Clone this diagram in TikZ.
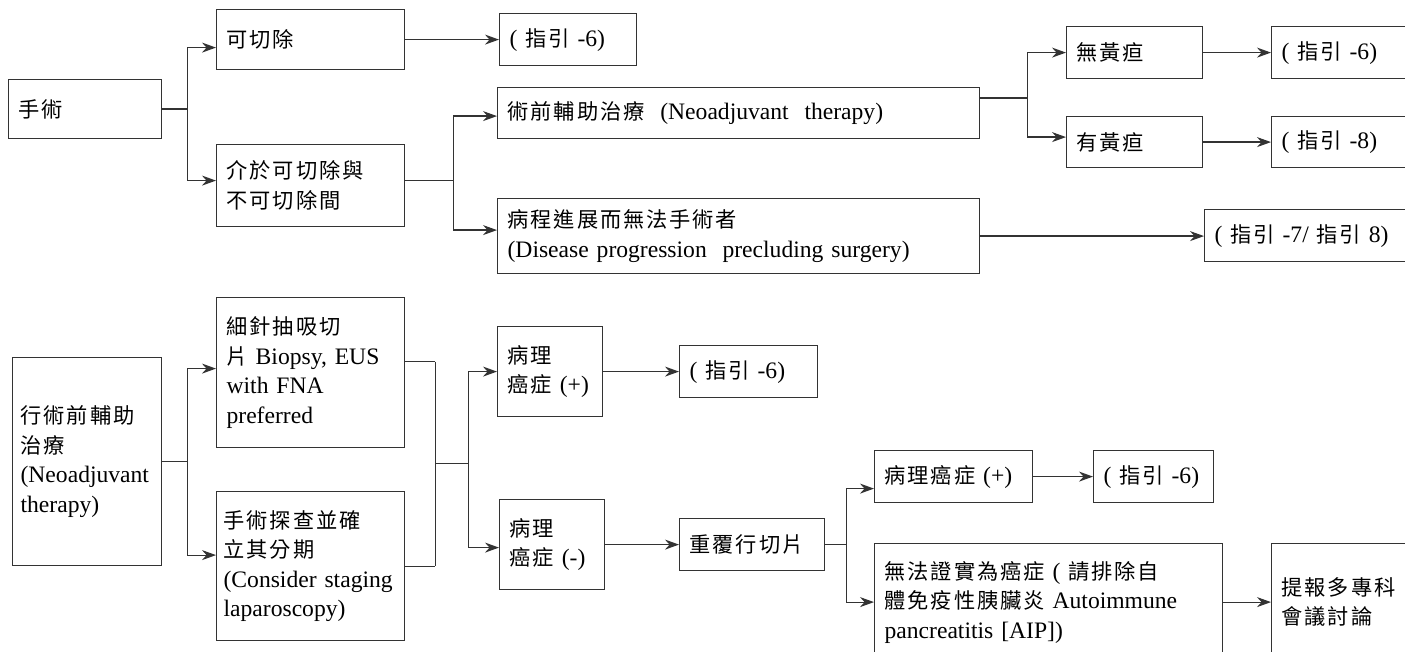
\documentclass[tikz,border=0pt]{standalone}
\usepackage{fontspec}
\setmainfont{Liberation Serif}
\newfontfamily\cjk{Noto Sans CJK TC}[Scale=0.9,LetterSpace=9]
\newcommand{\zh}[1]{{\cjk #1}}
\usetikzlibrary{arrows.meta,positioning}
\definecolor{linecol}{gray}{0.2}
\hyphenpenalty=10000
\exhyphenpenalty=10000

\begin{document}
\begin{tikzpicture}[x=1pt,y=-1pt,>={Stealth[length=14pt,width=10pt]},
                    box/.style 2 args={draw=linecol,line width=1.2pt,anchor=north west,
                      align=left,inner xsep=10pt,inner ysep=2pt,text width=#1,
                      minimum height=#2,font=\fontsize{23.6}{29.5}\selectfont},
                    link/.style={draw=linecol,line width=1.2pt}]
  \useasboundingbox (0,0) rectangle (1405,652);

  \node[box={133pt}{59pt}] (ss) at (8,79) {\zh{手術}};
  \node[box={168pt}{60pt}] (kqc) at (216,9) {\zh{可切除}};
  \node[box={168pt}{82pt}] (jy) at (216,144) {\zh{介於可切除與}\\\zh{不可切除間}};
  \node[box={117pt}{52pt}] (g6a) at (499,13) {( \zh{指引} -6)};
  \node[box={462pt}{51pt}] (neo) at (497,87) {\zh{術前輔助治療}\ \ (Neoadjuvant\ \ therapy)};
  \node[box={462pt}{75pt}] (prog) at (497,198) {\zh{病程進展而無法手術者}\\(Disease progression\ \ precluding surgery)};
  \node[box={116pt}{52pt}] (nj) at (1066,26) {\zh{無黃疸}};
  \node[box={116pt}{51pt}] (yj) at (1066,116) {\zh{有黃疸}};
  \node[box={129pt}{52pt}] (g6b) at (1271,26) {( \zh{指引} -6)};
  \node[box={129pt}{51pt}] (g8) at (1271,116) {( \zh{指引} -8)};
  \node[box={196pt}{52pt}] (g78) at (1204,209) {( \zh{指引} -7/ \zh{指引} 8)};

  \node[box={133pt}{208pt},inner xsep=8pt] (pre) at (12,357) {\zh{行術前輔助}\\\zh{治療}\\(Neoadjuvant\\therapy)};
  \node[box={168pt}{150pt}] (fna) at (216,297) {\zh{細針抽吸切}\\\zh{片} Biopsy, EUS\\with FNA\\preferred};
  \node[box={174pt}{149pt},inner xsep=7pt] (lap) at (216,491) {\zh{手術探查並確}\\\zh{立其分期}\\(Consider staging\\laparoscopy)};
  \node[box={85pt}{90pt}] (pos) at (497,326) {\zh{病理}\\\zh{癌症} (+)};
  \node[box={85pt}{90pt}] (neg) at (499,499) {\zh{病理}\\\zh{癌症} (-)};
  \node[box={118pt}{52pt}] (g6c) at (679,345) {( \zh{指引} -6)};
  \node[box={125pt}{52pt}] (rep) at (679,518) {\zh{重覆行切片}};
  \node[box={138pt}{52pt}] (pos2) at (874,450) {\zh{病理癌症} (+)};
  \node[box={100pt}{52pt}] (g6d) at (1093,450) {( \zh{指引} -6)};
  \node[box={328pt}{117pt}] (aip) at (874,543) {\zh{無法證實為癌症} ( \zh{請排除自}\\\zh{體免疫性胰臟炎} Autoimmune\\pancreatitis [AIP])};
  \node[box={129pt}{117pt}] (mdt) at (1271,543) {\zh{提報多專科}\\\zh{會議討論}};

  \draw[link] (ss.east) -- ++(25,0) coordinate (f1);
  \draw[link,->] (f1) |- ([yshift=-8pt]kqc.west);
  \draw[link,->] (f1) |- ([yshift=5pt]jy.west);
  \draw[link,->] (kqc.east) -- (kqc.east -| g6a.west);
  \draw[link] ([yshift=5pt]jy.east) -- ++(48,0) coordinate (f2);
  \draw[link,->] (f2) |- ([yshift=-3pt]neo.west);
  \draw[link,->] (f2) |- ([yshift=6pt]prog.west);
  \draw[link] ([yshift=15pt]neo.east) -- ++(47,0) coordinate (f3);
  \draw[link,->] (f3) |- (nj.west);
  \draw[link,->] (f3) |- ([yshift=5pt]yj.west);
  \draw[link,->] (nj.east) -- (nj.east -| g6b.west);
  \draw[link,->] (yj.east) -- (yj.east -| g8.west);
  \draw[link,->] (prog.east) -- (prog.east -| g78.west);

  \draw[link] (pre.east) -- ++(25,0) coordinate (f4);
  \draw[link,->] (f4) |- ([yshift=4pt]fna.west);
  \draw[link,->] (f4) |- ([yshift=11pt]lap.west);
  \draw[link] ([yshift=11pt]fna.east) -- ++(30,0) coordinate (m1);
  \draw[link] (lap.east) -- ++(30,0) coordinate (m2);
  \draw[link] (m1) -- coordinate (m3) (m2);
  \draw[link] (m3) -- ++(33,0) coordinate (f5);
  \draw[link,->] (f5) |- (pos.west);
  \draw[link,->] (f5) |- ([yshift=-3pt]neg.west);
  \draw[link,->] (pos.east) -- (pos.east -| g6c.west);
  \draw[link,->] (neg.east) -- (neg.east -| rep.west);
  \draw[link] (rep.east) -- ++(21,0) coordinate (f6);
  \draw[link,->] (f6) |- ([yshift=-12pt]pos2.west);
  \draw[link,->] (f6) |- (aip.west);
  \draw[link,->] (pos2.east) -- (pos2.east -| g6d.west);
  \draw[link,->] (aip.east) -- (aip.east -| mdt.west);
\end{tikzpicture}
\end{document}
